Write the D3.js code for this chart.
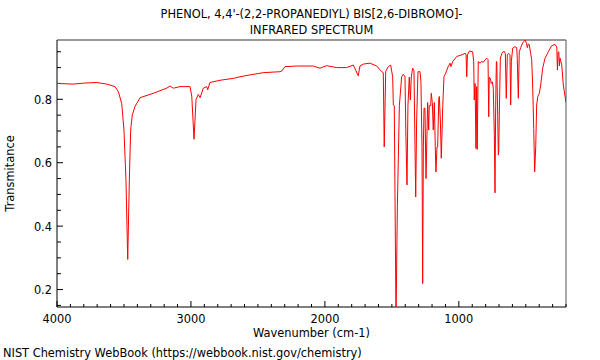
<!DOCTYPE html>
<html><head><meta charset="utf-8">
<script src="https://cdn.jsdelivr.net/npm/d3@7"></script>
<style>body{margin:0;background:#fff;}svg text{font-family:"DejaVu Sans",sans-serif;}</style>
</head><body>
<svg id="c" width="600" height="360"></svg>
<script>
const titleLines = ["PHENOL, 4,4'-(2,2-PROPANEDIYL) BIS[2,6-DIBROMO]-", "INFRARED SPECTRUM"];
const xLabel = "Wavenumber (cm-1)";
const yLabel = "Transmitance";
const credit = "NIST Chemistry WebBook (https://webbook.nist.gov/chemistry)";
const xTickValues = [4000, 3000, 2000, 1000];
const yTickValues = [0.2, 0.4, 0.6, 0.8];
const wavenumber = [4000,3880,3800,3704,3629,3567,3542,3517,3500,3485,3472,3460,3450,3438,3418,3380,3281,3181,3156,3132,3082,3007,2994,2977,2962,2945,2932,2908,2882,2875,2858,2783,2684,2634,2559,2460,2335,2322,2298,2210,2087,2037,1987,1912,1837,1788,1768,1751,1738,1713,1663,1613,1576,1564,1557,1546,1527,1509,1494,1489,1482,1469,1459,1444,1427,1415,1402,1395,1387,1380,1370,1362,1355,1345,1335,1330,1322,1315,1305,1290,1283,1275,1270,1265,1260,1253,1245,1238,1233,1225,1221,1210,1206,1198,1191,1183,1176,1171,1163,1158,1150,1146,1138,1131,1120,1111,1101,1079,1066,1059,1046,1016,979,954,946,941,936,922,897,889,885,879,872,867,863,855,842,829,817,805,792,782,777,773,765,758,750,743,735,730,725,720,717,710,705,702,698,690,678,663,653,646,638,628,618,613,608,598,581,568,564,556,549,538,531,519,504,494,489,481,474,464,456,449,441,434,426,419,411,399,389,374,357,332,307,282,269,264,259,254,249,245,232,220,200];
const transmittance = [0.850,0.848,0.851,0.853,0.848,0.840,0.824,0.787,0.703,0.545,0.295,0.545,0.703,0.750,0.777,0.805,0.819,0.835,0.842,0.835,0.840,0.840,0.810,0.674,0.800,0.815,0.805,0.835,0.840,0.830,0.853,0.860,0.866,0.871,0.877,0.884,0.887,0.889,0.903,0.905,0.905,0.898,0.906,0.900,0.900,0.908,0.890,0.874,0.905,0.911,0.914,0.905,0.887,0.884,0.650,0.888,0.903,0.908,0.871,0.782,0.780,0.100,0.461,0.780,0.871,0.879,0.871,0.682,0.530,0.780,0.870,0.798,0.870,0.898,0.890,0.735,0.492,0.735,0.887,0.887,0.856,0.650,0.219,0.650,0.772,0.772,0.550,0.690,0.790,0.703,0.780,0.780,0.819,0.790,0.703,0.790,0.650,0.571,0.650,0.650,0.800,0.809,0.735,0.614,0.780,0.871,0.880,0.903,0.914,0.903,0.919,0.935,0.940,0.945,0.942,0.871,0.940,0.952,0.950,0.919,0.798,0.850,0.645,0.840,0.642,0.919,0.914,0.919,0.917,0.924,0.930,0.925,0.745,0.870,0.866,0.850,0.855,0.835,0.690,0.505,0.780,0.919,0.919,0.750,0.624,0.640,0.750,0.930,0.945,0.952,0.945,0.803,0.940,0.945,0.940,0.782,0.919,0.961,0.966,0.963,0.930,0.803,0.950,0.963,0.971,0.980,0.987,0.975,0.963,0.975,0.972,0.945,0.925,0.845,0.708,0.571,0.650,0.782,0.808,0.819,0.845,0.898,0.929,0.950,0.969,0.973,0.965,0.892,0.948,0.950,0.905,0.930,0.909,0.845,0.790];

const svg = d3.select("#c");
const L = 57, R = 566, T = 40, B = 307;
const FS = "11.4px";
const x = d3.scaleLinear().domain([4000, 200]).range([L, R]);
const y = d3.scaleLinear().domain([0.145, 0.987]).range([B, T]);

svg.append("defs").append("clipPath").attr("id","clip")
  .append("rect").attr("x",L).attr("y",T).attr("width",R-L).attr("height",B-T);

// title
svg.selectAll("text.title").data(titleLines).enter().append("text")
  .attr("x",(L+R)/2).attr("y",(d,i)=>18+i*16).attr("text-anchor","middle")
  .attr("font-size",FS).attr("fill","#000").text(d=>d);

// frame (top gray, right)
svg.append("line").attr("x1",L).attr("x2",R).attr("y1",T).attr("y2",T).attr("stroke","#999").attr("stroke-width",2);
svg.append("line").attr("x1",R).attr("x2",R).attr("y1",T).attr("y2",B).attr("stroke","#555").attr("stroke-width",1);

// x axis
const xMinor = d3.range(4000, 199, -100);
const xa = svg.append("g").attr("transform",`translate(0,${B})`);
xa.append("line").attr("x1",L).attr("x2",R).attr("stroke","#000");
xa.selectAll("line.mn").data(xMinor).enter().append("line")
  .attr("x1",d=>x(d)).attr("x2",d=>x(d)).attr("y1",0).attr("y2",d=>xTickValues.includes(d)?-6:-3).attr("stroke","#000");
xa.selectAll("text").data(xTickValues).enter().append("text")
  .attr("x",d=>x(d)).attr("y",16).attr("text-anchor","middle").attr("font-size",FS).text(d=>d);

// y axis
const yMinor = d3.range(0.15, 0.99, 0.05).map(v=>+v.toFixed(2));
const ya = svg.append("g").attr("transform",`translate(${L},0)`);
ya.append("line").attr("y1",T).attr("y2",B).attr("stroke","#000");
ya.selectAll("line.mn").data(yMinor).enter().append("line")
  .attr("y1",d=>y(d)).attr("y2",d=>y(d)).attr("x1",0).attr("x2",d=>yTickValues.includes(d)?6:4).attr("stroke","#000");
ya.selectAll("text").data(yTickValues).enter().append("text")
  .attr("x",-5).attr("y",d=>y(d)+4.5).attr("text-anchor","end").attr("font-size",FS).text(d=>d.toFixed(1));

// labels
svg.append("text").attr("x",(L+R)/2).attr("y",337).attr("text-anchor","middle").attr("font-size",FS).text(xLabel);
svg.append("text").attr("transform",`translate(14,${(T+B)/2}) rotate(-90)`).attr("text-anchor","middle").attr("font-size",FS).text(yLabel);
svg.append("text").attr("x",3).attr("y",357).attr("font-size",FS).text(credit);

// spectrum
const pts = wavenumber.map((w,i)=>[w, transmittance[i]]);
svg.append("path").datum(pts).attr("clip-path","url(#clip)")
  .attr("fill","none").attr("stroke","#ff0000").attr("stroke-width",1).attr("stroke-linejoin","round")
  .attr("d", d3.line().x(d=>x(d[0])).y(d=>y(d[1])));
</script>
</body></html>
